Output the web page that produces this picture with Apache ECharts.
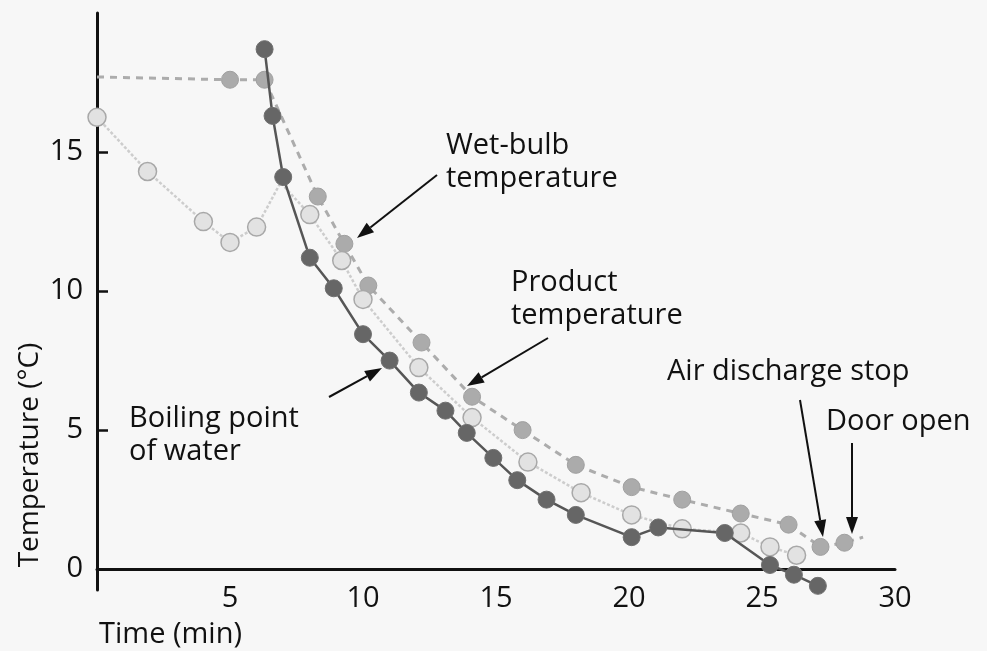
<!DOCTYPE html>
<html>
<head>
<meta charset="utf-8">
<title>Vacuum cooling temperatures</title>
<script src="https://cdn.jsdelivr.net/npm/echarts@6.0.0/dist/echarts.min.js"></script>
<style>
  html, body { margin: 0; padding: 0; background: #f7f7f7; }
  #chart { width: 987px; height: 651px; }
</style>
</head>
<body>
<div id="chart"></div>
<script>
// Boiling point of water (dark dots, solid line)
const boilTime = [6.3, 6.6, 7.0, 8.0, 8.9, 10.0, 11.0, 12.1, 13.1, 13.9, 14.9, 15.8, 16.9, 18.0, 20.1, 21.1, 23.6, 25.3, 26.2, 27.1];
const boilTemp = [18.7, 16.3, 14.1, 11.2, 10.1, 8.45, 7.5, 6.35, 5.7, 4.9, 4.0, 3.2, 2.5, 1.95, 1.15, 1.5, 1.3, 0.15, -0.2, -0.6];

// Product temperature (open circles); the 6.9 min point has no marker
const prodTime = [0, 1.9, 4.0, 5.0, 6.0, 6.9, 8.0, 9.2, 10.0, 12.1, 14.1, 16.2, 18.2, 20.1, 22.0, 24.2, 25.3, 26.3];
const prodTemp = [16.25, 14.3, 12.5, 11.75, 12.3, 13.9, 12.75, 11.1, 9.7, 7.25, 5.45, 3.85, 2.75, 1.95, 1.45, 1.3, 0.8, 0.5];
const prodHidden = [6.9];

// Wet-bulb temperature (grey dots, dashed line); first and last points are line ends only
const wetTime = [0, 5.0, 6.3, 8.3, 9.3, 10.2, 12.2, 14.1, 16.0, 18.0, 20.1, 22.0, 24.2, 26.0, 27.2, 28.1, 28.8];
const wetTemp = [17.7, 17.6, 17.6, 13.4, 11.7, 10.2, 8.15, 6.2, 5.0, 3.75, 2.95, 2.5, 2.0, 1.6, 0.8, 0.95, 1.15];
const wetHidden = [0, 28.8];

const xTicks = [5, 10, 15, 20, 25, 30];
const yTicks = [0, 5, 10, 15];

const FONT = '"Open Sans", "Noto Sans", sans-serif';
const INK = '#111';
const SIZE = 29;

function pairs(xs, ys, hidden) {
  return xs.map((x, i) => hidden && hidden.includes(x)
    ? { value: [x, ys[i]], symbol: 'none' }
    : [x, ys[i]]);
}

function arrow(x1, y1, x2, y2) {
  const ang = Math.atan2(y2 - y1, x2 - x1);
  const len = 17, half = 6;
  const bx = x2 - len * Math.cos(ang), by = y2 - len * Math.sin(ang);
  const px = -Math.sin(ang) * half, py = Math.cos(ang) * half;
  return {
    type: 'group',
    children: [
      { type: 'line', shape: { x1: x1, y1: y1, x2: bx, y2: by }, style: { stroke: '#111', lineWidth: 2 } },
      { type: 'polygon', shape: { points: [[x2, y2], [bx + px, by + py], [bx - px, by - py]] }, style: { fill: '#111' } }
    ]
  };
}

function label(text, x, y, extra) {
  return Object.assign({
    type: 'text', x: x, y: y,
    style: { text: text, font: SIZE + 'px ' + FONT, fill: INK, textAlign: 'left', textVerticalAlign: 'middle', lineHeight: 33 }
  }, extra || {});
}

const chart = echarts.init(document.getElementById('chart'));
chart.setOption({
  backgroundColor: '#f7f7f7',
  animation: false,
  grid: { left: 97, right: 92, top: 13, bottom: 61 },
  xAxis: {
    type: 'value', min: 0, max: 30, interval: 5,
    splitLine: { show: false },
    axisTick: { show: false },
    axisLine: { onZero: true, lineStyle: { color: '#111', width: 3 } },
    axisLabel: {
      margin: -6, fontSize: SIZE, fontFamily: FONT, color: INK,
      customValues: xTicks,
      formatter: v => (xTicks.includes(v) ? String(v) : '')
    }
  },
  yAxis: {
    type: 'value', min: -0.75, max: 20,
    splitLine: { show: false },
    axisLine: { lineStyle: { color: '#111', width: 3 } },
    axisTick: { inside: true, length: 11, customValues: [5, 10, 15], lineStyle: { color: '#111', width: 2.5 } },
    axisLabel: {
      margin: 14, fontSize: SIZE, fontFamily: FONT, color: INK,
      customValues: yTicks,
      formatter: v => (yTicks.includes(v) ? String(v) : '')
    }
  },
  series: [
    {
      name: 'Wet-bulb temperature', type: 'line', clip: false,
      data: pairs(wetTime, wetTemp, wetHidden),
      symbol: 'circle', symbolSize: 17,
      itemStyle: { color: '#ababab', borderColor: '#a0a0a0', borderWidth: 1 },
      lineStyle: { color: '#acacac', width: 3, type: [7, 6] },
      z: 2
    },
    {
      name: 'Product temperature', type: 'line', clip: false,
      data: pairs(prodTime, prodTemp, prodHidden),
      symbol: 'circle', symbolSize: 18,
      itemStyle: { color: '#e2e2e2', borderColor: '#a8a8a8', borderWidth: 1.5 },
      lineStyle: { color: '#cdcdcd', width: 2.5, type: [3, 2] },
      z: 3
    },
    {
      name: 'Boiling point of water', type: 'line', clip: false,
      data: pairs(boilTime, boilTemp),
      symbol: 'circle', symbolSize: 17,
      itemStyle: { color: '#666', borderColor: '#707070', borderWidth: 1 },
      lineStyle: { color: '#565656', width: 2.5 },
      z: 4
    }
  ],
  graphic: [
    label('Temperature (°C)', 30, 455, { rotation: Math.PI / 2, style: { text: 'Temperature (°C)', font: '28px ' + FONT, fill: INK, textAlign: 'center', textVerticalAlign: 'middle' } }),
    label('Time (min)', 99, 635),
    label('Wet-bulb\ntemperature', 446, 162),
    label('Product\ntemperature', 511, 299),
    label('Boiling point\nof water', 129, 435),
    label('Air discharge stop', 667, 372),
    label('Door open', 826, 422),
    arrow(437, 175, 357, 238),
    arrow(548, 338, 467, 386),
    arrow(329, 397, 382, 368),
    arrow(800, 400, 823, 537),
    arrow(852, 443, 852, 534)
  ]
});
</script>
</body>
</html>
